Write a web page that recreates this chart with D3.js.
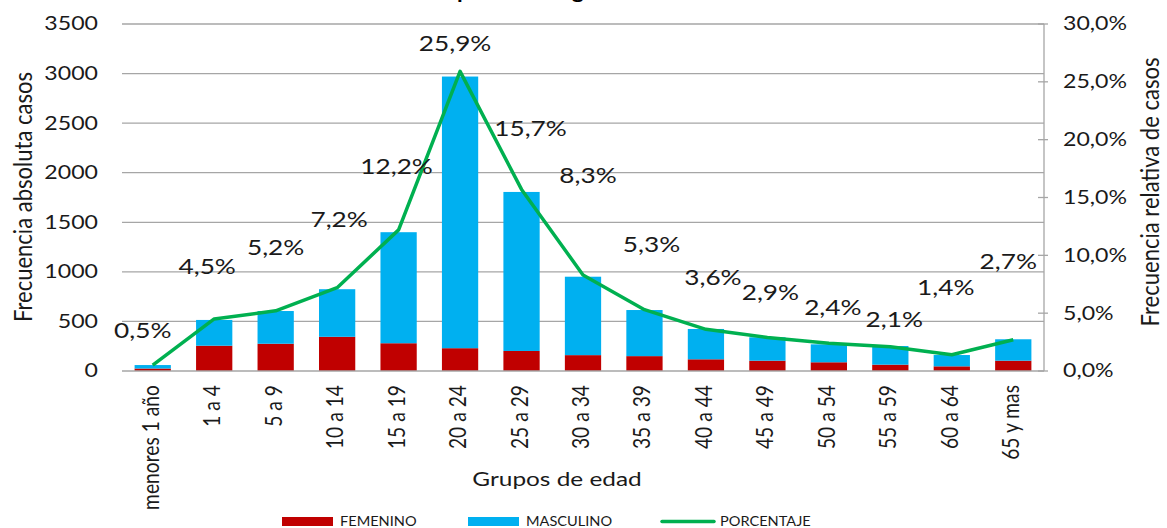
<!DOCTYPE html>
<html>
<head>
<meta charset="utf-8">
<script src="https://cdn.jsdelivr.net/npm/d3@7"></script>
<style>
  html, body { margin: 0; padding: 0; background: #fff; }
  svg { display: block; font-family: Lato, "Open Sans", sans-serif; }
</style>
</head>
<body>
<svg id="chart" width="1167" height="528"></svg>
<script>
// ---- data ----
const categories = ["menores 1 año","1 a 4","5 a 9","10 a 14","15 a 19","20 a 24","25 a 29","30 a 34","35 a 39","40 a 44","45 a 49","50 a 54","55 a 59","60 a 64","65 y mas"];
const femenino  = [25, 255, 275, 345, 280, 230, 202, 160, 150, 118, 104, 88, 64, 47, 104];
const masculino = [35, 260, 330, 480, 1120, 2740, 1604, 791, 465, 306, 236, 181, 188, 114, 216];
const porcentaje = [0.5, 4.5, 5.2, 7.2, 12.2, 25.9, 15.7, 8.3, 5.3, 3.6, 2.9, 2.4, 2.1, 1.4, 2.7];
const leftTicks = [0, 500, 1000, 1500, 2000, 2500, 3000, 3500];
const rightTicks = [0, 5, 10, 15, 20, 25, 30];
const seriesNames = ["FEMENINO", "MASCULINO", "PORCENTAJE"];
// manual label placements (offset from point), as in the original chart
const labelDx = [-10, -7, 0, 2, -2, -5, 9, 5, 7, 7, 3, 4, 4, -6, -5];
const labelDy = [-27, -45, -56, -61, -56, -20, -53, -92, -58, -44, -37, -28, -20, -60, -71];

const colors = { fem: "#c00000", mas: "#00b0f0", line: "#00b050", grid: "#a6a6a6", text: "#1a1a1a" };
const SX = 1.25; // horizontal stretch of the original picture

const svg = d3.select("#chart");
const M = { left: 122, right: 1044, top: 24, bottom: 371 };

const x = d3.scaleBand().domain(categories).range([M.left, M.right]).paddingInner(0.41).paddingOuter(0.205);
const yL = d3.scaleLinear().domain([0, 3500]).range([M.bottom, M.top]);
const yR = d3.scaleLinear().domain([0, 30]).range([M.bottom, M.top]);

const loc = d3.formatLocale({ decimal: ",", thousands: ".", grouping: [3], currency: ["", ""] });
const fmtPct = v => loc.format(".1f")(v) + "%";

function stretchText(sel, sx) {
  sel.each(function () {
    const t = d3.select(this);
    const tx = +t.attr("x") || 0, ty = +t.attr("y") || 0;
    t.attr("transform", `translate(${tx},${ty}) scale(${sx},1) translate(${-tx},${-ty})`);
  });
}

// gridlines
svg.append("g").selectAll("line").data(leftTicks.filter(d => d > 0)).join("line")
  .attr("x1", M.left).attr("x2", M.right)
  .attr("y1", d => yL(d)).attr("y2", d => yL(d))
  .attr("stroke", colors.grid).attr("stroke-width", 1.3);

// left axis labels
const lt = svg.append("g").selectAll("text").data(leftTicks).join("text")
  .attr("x", 98).attr("y", d => yL(d) + 6.5)
  .attr("text-anchor", "end").attr("font-size", 18.5).attr("fill", colors.text)
  .text(d => d);
stretchText(lt, SX);

// bars
const stack = categories.map((c, i) => ({ c, f: femenino[i], m: masculino[i] }));
svg.append("g").selectAll("rect").data(stack).join("rect")
  .attr("x", d => x(d.c)).attr("width", x.bandwidth())
  .attr("y", d => yL(d.f)).attr("height", d => yL(0) - yL(d.f))
  .attr("fill", colors.fem);
svg.append("g").selectAll("rect").data(stack).join("rect")
  .attr("x", d => x(d.c)).attr("width", x.bandwidth())
  .attr("y", d => yL(d.f + d.m)).attr("height", d => yL(d.f) - yL(d.f + d.m))
  .attr("fill", colors.mas);

// bottom axis line
svg.append("line").attr("x1", M.left).attr("x2", M.right)
  .attr("y1", yL(0)).attr("y2", yL(0)).attr("stroke", colors.grid).attr("stroke-width", 1.5);

// right axis
svg.append("line").attr("x1", M.right).attr("x2", M.right)
  .attr("y1", M.top).attr("y2", M.bottom).attr("stroke", colors.grid).attr("stroke-width", 1.3);
svg.append("g").selectAll("line").data(rightTicks).join("line")
  .attr("x1", M.right - 6).attr("x2", M.right + 4)
  .attr("y1", d => yR(d)).attr("y2", d => yR(d))
  .attr("stroke", colors.grid).attr("stroke-width", 1.3);
const rt = svg.append("g").selectAll("text").data(rightTicks).join("text")
  .attr("x", 1063).attr("y", d => yR(d) + 6.5)
  .attr("font-size", 18.5).attr("fill", colors.text)
  .text(d => fmtPct(d));
stretchText(rt, SX);

// line
const cx = c => x(c) + x.bandwidth() / 2;
svg.append("path").datum(porcentaje)
  .attr("d", d3.line().x((d, i) => cx(categories[i])).y(d => yR(d)))
  .attr("fill", "none").attr("stroke", colors.line).attr("stroke-width", 3.5).attr("stroke-linejoin", "round");

// data labels
const dl = svg.append("g").selectAll("text").data(porcentaje).join("text")
  .attr("x", (d, i) => cx(categories[i]) + labelDx[i])
  .attr("y", (d, i) => yR(d) + labelDy[i])
  .attr("text-anchor", "middle").attr("font-size", 20.5).attr("fill", colors.text)
  .text(d => fmtPct(d));
stretchText(dl, 1.28);

// x labels (rotated)
svg.append("g").selectAll("text").data(categories).join("text")
  .attr("transform", c => `translate(${cx(c) + 6},385) rotate(-90) scale(1.04,${SX})`)
  .attr("text-anchor", "end").attr("font-size", 18.5).attr("fill", colors.text)
  .text(c => c);

// axis titles
svg.append("text").attr("transform", `translate(32,197) rotate(-90) scale(1.05,1.2)`)
  .attr("text-anchor", "middle").attr("font-size", 21).attr("fill", colors.text)
  .text("Frecuencia absoluta casos");
svg.append("text").attr("transform", `translate(1159,192) rotate(-90) scale(1.05,1.2)`)
  .attr("text-anchor", "middle").attr("font-size", 21).attr("fill", colors.text)
  .text("Frecuencia relativa de casos");
const xt = svg.append("text").attr("x", 557).attr("y", 486)
  .attr("text-anchor", "middle").attr("font-size", 19.5).attr("fill", colors.text)
  .text("Grupos de edad");
stretchText(xt, SX);

// title (only the descenders are visible in the original crop)
const title = svg.append("text").attr("x", 0).attr("y", -2)
  .attr("font-size", 21).attr("font-weight", "bold").attr("fill", "#000")
  .text("Distribución de casos por sexo según edad");
{
  const node = title.node();
  const s = node.textContent;
  const pi = s.indexOf("por"), gi = s.indexOf("según") + 3;
  const px = node.getStartPositionOfChar(pi).x, gx = node.getStartPositionOfChar(gi).x;
  const k = (584 - 457) / (gx - px);
  title.attr("transform", `translate(${457 - px * k},0) scale(${k},1)`);
}

// legend
const lg = svg.append("g");
const items = [
  { name: seriesNames[0], type: "rect", color: colors.fem, x: 282 },
  { name: seriesNames[1], type: "rect", color: colors.mas, x: 468 },
  { name: seriesNames[2], type: "line", color: colors.line, x: 662 }
];
items.forEach(it => {
  if (it.type === "rect") {
    lg.append("rect").attr("x", it.x).attr("y", 517).attr("width", 51).attr("height", 9).attr("fill", it.color);
  } else {
    lg.append("line").attr("x1", it.x).attr("x2", it.x + 52).attr("y1", 521.5).attr("y2", 521.5)
      .attr("stroke", it.color).attr("stroke-width", 3.5).attr("stroke-linecap", "round");
  }
  const t = lg.append("text").attr("x", it.x + 58).attr("y", 526).attr("font-size", 13.5)
    .attr("fill", colors.text).text(it.name);
  stretchText(t, 1.08);
});
</script>
</body>
</html>
